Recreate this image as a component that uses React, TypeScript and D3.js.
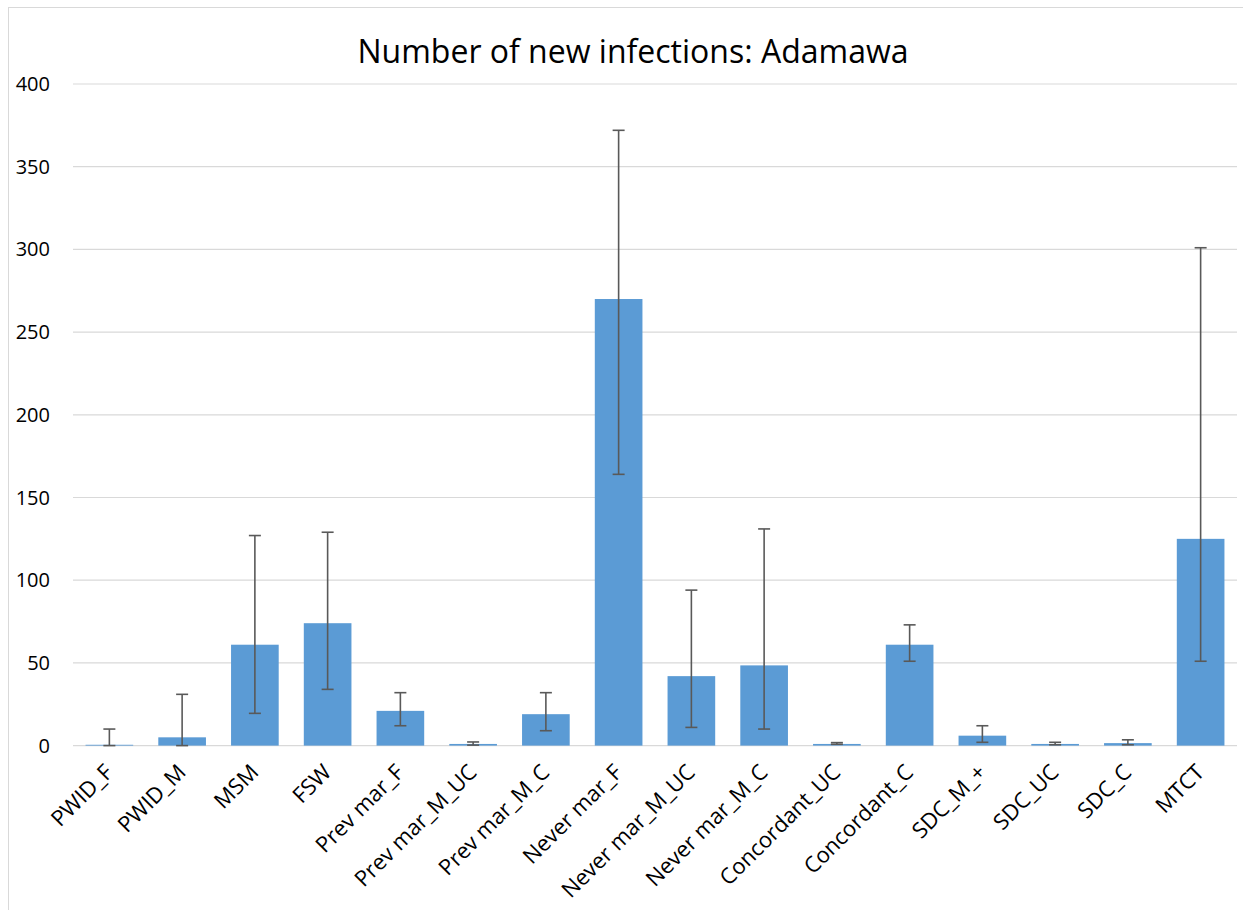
import React from "react";
import * as d3 from "d3";

const categories = [
  "PWID_F", "PWID_M", "MSM", "FSW", "Prev mar_F", "Prev mar_M_UC", "Prev mar_M_C",
  "Never mar_F", "Never mar_M_UC", "Never mar_M_C", "Concordant_UC", "Concordant_C",
  "SDC_M_+", "SDC_UC", "SDC_C", "MTCT",
];
const values = [0.5, 5, 61, 74, 21, 1, 19, 270, 42, 48.5, 1, 61, 6, 1, 1.5, 125];
const lower = [0, 0, 19.5, 34, 12, 0.3, 9, 164, 11, 10, 0.8, 51, 2, 0.5, 0.5, 51];
const upper = [10, 31, 127, 129, 32, 2.2, 32, 372, 94, 131, 1.8, 73, 12, 2, 3.5, 301];
const yTicks = [0, 50, 100, 150, 200, 250, 300, 350, 400];
const title = "Number of new infections: Adamawa";

const W = 1243;
const H = 910;
const plot = { left: 73, right: 1237, top: 84, bottom: 745.6 };
const FONT = "'Open Sans', 'Noto Sans', sans-serif";

export default function App() {
  const x = d3
    .scaleBand<string>()
    .domain(categories)
    .range([plot.left, plot.right])
    .paddingInner(0.345)
    .paddingOuter(0.1725);
  const y = d3.scaleLinear().domain([0, 400]).range([plot.bottom, plot.top]);
  const bw = x.bandwidth();
  const cap = 6;

  return (
    <svg
      width={W}
      height={H}
      style={{ position: "absolute", left: 0, top: 0, background: "#fff" }}
    >
      <rect x={8.5} y={7.5} width={1400} height={1200} fill="#fff" stroke="#d9d9d9" strokeWidth={1} />
      <text
        x={633}
        y={63}
        textAnchor="middle"
        fontFamily={FONT}
        fontSize={32}
        fill="#000"
      >
        {title}
      </text>
      {yTicks.map((t) => (
        <g key={t}>
          <line
            x1={plot.left}
            x2={plot.right}
            y1={y(t)}
            y2={y(t)}
            stroke="#d9d9d9"
            strokeWidth={1.2}
          />
          <text
            x={50}
            y={y(t)}
            dy="0.35em"
            textAnchor="end"
            fontFamily={FONT}
            fontSize={20}
            fill="#000"
          >
            {t}
          </text>
        </g>
      ))}
      {categories.map((c, i) => {
        const x0 = x(c)!;
        const cx = x0 + bw / 2;
        return (
          <g key={c}>
            <rect
              x={x0}
              y={y(values[i])}
              width={bw}
              height={y(0) - y(values[i])}
              fill="#5b9bd5"
            />
            <line x1={cx} x2={cx} y1={y(upper[i])} y2={y(lower[i])} stroke="#595959" strokeWidth={1.6} />
            <line x1={cx - cap} x2={cx + cap} y1={y(upper[i])} y2={y(upper[i])} stroke="#595959" strokeWidth={1.6} />
            <line x1={cx - cap} x2={cx + cap} y1={y(lower[i])} y2={y(lower[i])} stroke="#595959" strokeWidth={1.6} />
            <text
              transform={`translate(${cx + 5},${plot.bottom + 28}) rotate(-45)`}
              textAnchor="end"
              fontFamily={FONT}
              fontSize={22}
              fill="#000"
            >
              {c}
            </text>
          </g>
        );
      })}
    </svg>
  );
}
